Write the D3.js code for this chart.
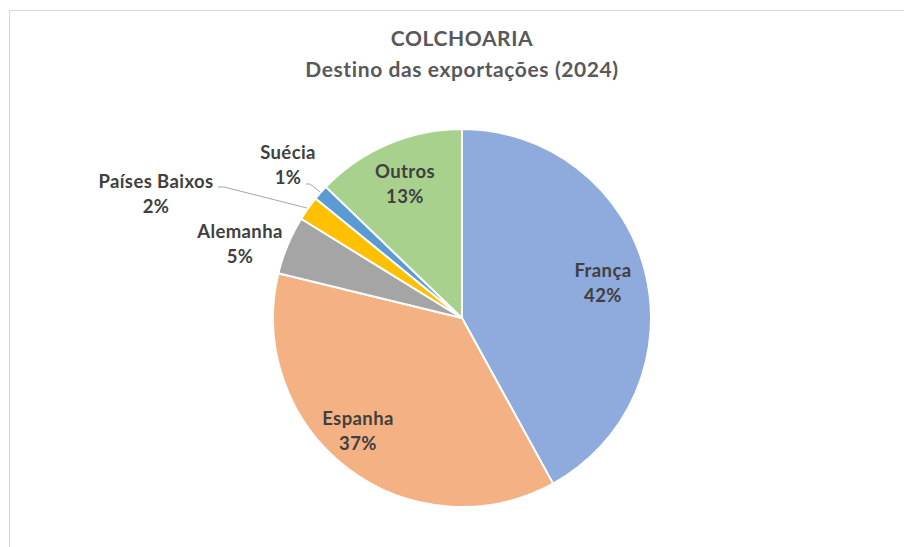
<!DOCTYPE html>
<html>
<head>
<meta charset="utf-8">
<script src="https://cdn.jsdelivr.net/npm/d3@7"></script>
<style>
  html, body { margin: 0; padding: 0; background: #ffffff; }
  svg { display: block; }
</style>
</head>
<body>
<svg id="chart" width="904" height="547"></svg>
<script>
// ---- data ----
const categories = ["França", "Espanha", "Alemanha", "Países Baixos", "Suécia", "Outros"];
const values = [42.0, 36.8, 5.0, 2.1, 1.3, 12.8];
const colors = ["#8FAADC", "#F4B183", "#A5A5A5", "#FFC000", "#5B9BD5", "#A9D18E"];
const titleLines = ["COLCHOARIA", "Destino das exportações (2024)"];

// ---- layout (not data) ----
const W = 904, H = 547;
const cx = 462, cy = 318, R = 189;
// label anchors relative to pie centre: [x of text centre, baseline of first line]
const labelPos = [
  [141, -41],   // França
  [-104, 107],  // Espanha
  [-222, -80],  // Alemanha
  [-306, -130], // Países Baixos
  [-174, -159], // Suécia
  [-57, -140]   // Outros
];
// leader lines (relative to centre) for outside labels
const leaders = {
  3: [[-244, -131], [-238, -131], [-155, -110]],
  4: [[-156, -134], [-152, -134], [-142, -126]]
};

const svg = d3.select("#chart");

// chart border (only top/left visible in the crop)
svg.append("rect")
  .attr("x", 9.5).attr("y", 10.5)
  .attr("width", W + 20).attr("height", H + 20)
  .attr("fill", "#ffffff")
  .attr("stroke", "#D9D9D9").attr("stroke-width", 1);

// title
const title = svg.append("text")
  .attr("text-anchor", "middle")
  .attr("fill", "#595959")
  .style("font-family", "Lato, 'Open Sans', sans-serif")
  .style("font-weight", "bold")
  .style("font-size", "21px")
  .style("letter-spacing", "0.6px");
titleLines.forEach((t, i) => {
  title.append("tspan").attr("x", 462).attr("y", 46 + i * 31).text(t);
});

const data = categories.map((c, i) => ({ name: c, value: values[i], color: colors[i], idx: i }));
const pie = d3.pie().value(d => d.value).sort(null).startAngle(0).endAngle(2 * Math.PI);
const arc = d3.arc().innerRadius(0).outerRadius(R);
const arcs = pie(data);

const g = svg.append("g").attr("transform", `translate(${cx},${cy})`);

g.selectAll("path.slice")
  .data(arcs)
  .join("path")
  .attr("class", "slice")
  .attr("d", arc)
  .attr("fill", d => d.data.color)
  .attr("stroke", "#ffffff")
  .attr("stroke-width", 2)
  .attr("stroke-linejoin", "round");

// leader lines
Object.entries(leaders).forEach(([k, pts]) => {
  g.append("polyline")
    .attr("points", pts.map(p => p.join(",")).join(" "))
    .attr("fill", "none")
    .attr("stroke", "#A6A6A6")
    .attr("stroke-width", 1);
});

// labels
const labels = g.selectAll("text.lbl")
  .data(arcs)
  .join("text")
  .attr("class", "lbl")
  .attr("text-anchor", "middle")
  .attr("fill", "#404040")
  .style("font-family", "Lato, 'Open Sans', sans-serif")
  .style("font-weight", "bold")
  .style("font-size", "18.5px")
  .style("letter-spacing", "0.4px");
labels.each(function(d, i) {
  const p = labelPos[i];
  const t = d3.select(this);
  t.append("tspan").attr("x", p[0]).attr("y", p[1]).text(d.data.name);
  t.append("tspan").attr("x", p[0]).attr("y", p[1] + 25).text(d3.format(".0f")(d.data.value) + "%");
});
</script>
</body>
</html>
